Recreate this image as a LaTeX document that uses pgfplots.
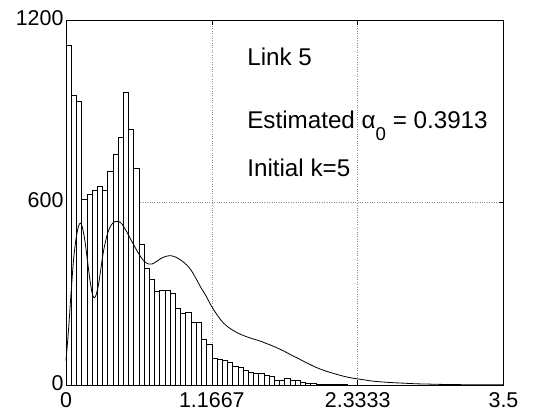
\documentclass[border=0pt]{standalone}
\usepackage{fontspec}
\setmainfont{Liberation Sans}
\usepackage{pgfplots}
\pgfplotsset{compat=1.18}
\begin{document}
\begin{tikzpicture}
\begin{axis}[
  name=ax,
  scale only axis,
  width=437.5bp, height=365bp,
  xmin=0, xmax=3.5, ymin=0, ymax=1200,
  xtick={0,1.1667,2.3333,3.5},
  xticklabels={0,1.1667,2.3333,3.5},
  ytick={0,600,1200},
  yticklabels={0,600,1200},
  grid=major,
  major grid style={dotted, black!45, line width=0.5bp},
  axis line style={line width=0.8bp},
  tick style={black, line width=0.6bp},
  major tick length=5bp,
  tick align=inside,
  ticklabel style={font=\fontsize{21.5}{25}\selectfont},
  xticklabel style={yshift=-4bp},
  yticklabel style={xshift=1bp, yshift=2bp},
  /pgf/number format/assume math mode=true,
  clip=false,
]
\addplot[ybar interval, fill=white, draw=black, line width=0.6bp] coordinates {
(0,1118) (0.0417,953) (0.0833,933) (0.125,610) (0.1667,628) (0.2083,639)
(0.25,652) (0.2917,639) (0.3333,702) (0.375,757) (0.4167,814) (0.4583,961)
(0.5,842) (0.5417,711) (0.5833,461) (0.625,384) (0.6667,348) (0.7083,309)
(0.75,311) (0.7917,311) (0.8333,302) (0.875,251) (0.9167,235) (0.9583,240)
(1.0,205) (1.0417,207) (1.0833,149) (1.125,133) (1.1667,89) (1.2083,85)
(1.25,82) (1.2917,74) (1.3333,63) (1.375,57) (1.4167,47) (1.4583,41)
(1.5,38) (1.5417,40) (1.5833,31) (1.625,27) (1.6667,15) (1.7083,16)
(1.75,22) (1.7917,16) (1.8333,14) (1.875,10) (1.9167,4) (1.9583,7)
(2.0,3) (2.0417,2) (2.0833,2) (2.125,1) (2.1667,1) (2.2083,1) (2.25,0)
};
\addplot[black, line width=0.8bp, smooth, tension=0.5] coordinates {
(0,80) (0.02,180) (0.04,300) (0.06,410) (0.08,480) (0.10,522) (0.115,532)
(0.13,520) (0.15,478) (0.17,415) (0.19,350) (0.21,300) (0.225,287) (0.24,295)
(0.26,330) (0.28,385) (0.30,440) (0.33,495) (0.36,525) (0.39,537) (0.42,538)
(0.45,528) (0.48,508) (0.51,485) (0.54,462) (0.57,440) (0.60,420) (0.63,405)
(0.66,398) (0.69,398) (0.72,405) (0.76,416) (0.80,423) (0.84,425) (0.88,420)
(0.92,410) (0.96,397) (1.00,378) (1.04,350) (1.08,320) (1.12,293) (1.16,262)
(1.20,236) (1.24,213) (1.28,196) (1.32,184) (1.36,174) (1.40,166) (1.45,158)
(1.50,151) (1.55,145) (1.60,137) (1.65,129) (1.70,120) (1.75,110) (1.80,99)
(1.85,89) (1.90,78) (1.95,68) (2.00,58) (2.05,50) (2.10,43) (2.15,37)
(2.20,31) (2.25,26) (2.30,22) (2.35,19) (2.40,16) (2.45,13) (2.50,11)
(2.6,8) (2.7,6) (2.8,4) (2.9,3) (3.0,2) (3.2,1) (3.5,0.5)
};
\node[anchor=base west, inner sep=0, font=\fontsize{24.3}{28}\selectfont] at (axis cs:1.449,1052) {Link 5};
\node[anchor=base west, inner sep=0, font=\fontsize{24.3}{28}\selectfont] at (axis cs:1.449,843) {Estimated α\raisebox{-0.48em}{\fontsize{18.7}{21}\selectfont 0} = 0.3913};
\node[anchor=base west, inner sep=0, font=\fontsize{24.3}{28}\selectfont] at (axis cs:1.449,685) {Initial k=5};
\end{axis}
\pgfresetboundingbox
\path ([xshift=-66bp,yshift=-35bp]ax.south west) rectangle ([xshift=33.5bp,yshift=20bp]ax.north east);
\end{tikzpicture}
\end{document}
